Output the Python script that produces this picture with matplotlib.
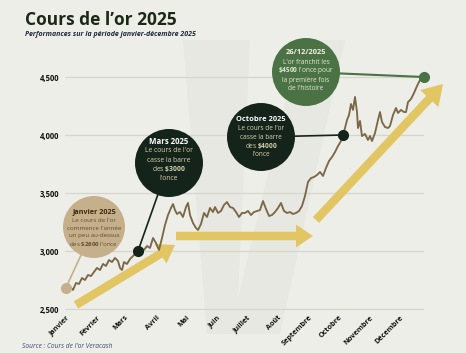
import matplotlib
matplotlib.use("Agg")
import matplotlib.pyplot as plt
from matplotlib.patches import Ellipse, Polygon
import numpy as np

plt.rcParams['font.family'] = ['Open Sans', 'DejaVu Sans']
plt.rcParams['mathtext.fontset'] = 'custom'
plt.rcParams['mathtext.rm'] = 'Open Sans'
plt.rcParams['mathtext.bf'] = 'Open Sans:bold'
plt.rcParams['mathtext.it'] = 'Open Sans:italic'

# ---------------- data ----------------
months = ['Janvier', 'Février', 'Mars', 'Avril', 'Mai', 'Juin', 'Juillet',
          'Août', 'Septembre', 'Octobre', 'Novembre', 'Décembre']
month_start_days = [0, 31, 59, 90, 120, 151, 181, 212, 243, 273, 304, 334]
y_ticks = [2500, 3000, 3500, 4000, 4500]
y_tick_labels = ['2,500', '3,000', '3,500', '4,000', '4,500']

days = [0, 1, 4, 7, 10, 13, 16, 19, 22, 25, 28,
        31, 34, 37, 40, 43, 46, 49, 52, 54, 56,
        58, 61, 64, 67, 70, 72, 75, 78, 81, 84,
        87, 90, 93, 96, 99, 102, 105, 107, 109, 111,
        114, 117, 120, 122, 124, 127, 130, 132, 135, 138,
        141, 144, 147, 149, 152, 155, 158, 161, 164, 167,
        170, 173, 176, 179, 182, 185, 188, 191, 194, 197,
        200, 203, 206, 209, 212, 215, 218, 221, 224, 227,
        230, 233, 236, 239, 242, 245, 248, 251, 254, 257,
        260, 263, 266, 269, 272, 275, 277, 279, 281, 283,
        285, 287, 289, 291, 292, 294, 296, 299, 302, 304,
        306, 309, 312, 314, 316, 319, 322, 324, 327, 330,
        332, 335, 338, 340, 342, 345, 348, 351, 354, 357,
        358]
prices = [2685, 2664, 2690, 2664, 2724, 2716, 2767, 2750, 2793, 2784, 2819,
          2854, 2836, 2888, 2871, 2922, 2905, 2940, 2914, 2854, 2836,
          2905, 2888, 2931, 2957, 2983, 3000, 3026, 3009, 3043, 3026,
          3112, 3069, 3009, 3112, 3224, 3310, 3371, 3405, 3353, 3319,
          3336, 3293, 3379, 3414, 3310, 3241, 3198, 3181, 3233, 3328,
          3293, 3371, 3336, 3379, 3328, 3345, 3397, 3422, 3379, 3371,
          3336, 3293, 3328, 3328, 3345, 3310, 3336, 3345, 3353, 3431,
          3362, 3302, 3310, 3336, 3371, 3414, 3345, 3328, 3336, 3319,
          3328, 3345, 3388, 3474, 3595, 3629, 3638, 3655, 3681, 3647,
          3716, 3776, 3810, 3853, 3905, 3948, 4000, 4060, 4129, 4172,
          4267, 4216, 4328, 4198, 4060, 4121, 3991, 4009, 3957, 3991,
          3948, 4017, 4129, 4198, 4112, 4069, 4060, 4078, 4172, 4233,
          4190, 4216, 4198, 4198, 4284, 4310, 4362, 4422, 4474, 4509,
          4500]

# highlighted points (day, price)
pt_jan = (0, 2685)
pt_mar = (72, 3000)
pt_oct = (277, 4000)
pt_dec = (358, 4500)

# ---------------- style ----------------
W, H = 466, 353
BG = '#eeeee9'
DARK = '#14241a'
GREEN = '#4a7245'
TAN = '#c6b08b'
GOLD = '#e2c664'
LINE = '#7b6847'

fig = plt.figure(figsize=(W / 100, H / 100), dpi=100, facecolor=BG)


def F(x, y):
    return (x / W, 1 - y / H)


def py(v):
    return 77 + (4500 - v) * 58 / 500


ax_bottom = py(2480)
ax_top = py(4600)
ax = fig.add_axes([65 / W, 1 - ax_bottom / H, (424 - 65) / W, (ax_bottom - ax_top) / H])
ax.set_facecolor('none')
ax.set_xlim(-1, 358)
ax.set_ylim(2480, 4600)
for s in ax.spines.values():
    s.set_visible(False)
ax.set_yticks(y_ticks)
ax.set_yticklabels(y_tick_labels, fontsize=5.5, fontweight='bold', color='#111111')
ax.set_xticks(month_start_days)
ax.set_xticklabels(months, fontsize=5.2, fontweight='bold', color='#111111',
                   rotation=45, ha='right', va='top', rotation_mode='anchor')
ax.tick_params(axis='y', length=0, pad=4.3)
ax.tick_params(axis='x', length=0, pad=2)
ax.yaxis.grid(True, color='#d6d6cf', lw=0.9, zorder=0.5)
ax.set_axisbelow(True)

FT = fig.transFigure

# watermark V (behind everything in the axes)
vshape = [(183, 40), (250, 40), (238, 298), (300, 40), (345, 40), (280, 334), (207, 334)]
ax.add_patch(Polygon([F(x, y) for x, y in vshape], closed=True, transform=FT,
                     facecolor='#e8e8e2', edgecolor='none', zorder=0.1, clip_on=False))

ax.plot(days, prices, color=LINE, lw=1.35, zorder=3, solid_joinstyle='round')


# arrows (reference pixel geometry)
def arrow(tail, tip, w=8.5, hw=23, hl=17):
    tail = np.array(tail, float)
    tip = np.array(tip, float)
    d = tip - tail
    d /= np.hypot(*d)
    n = np.array([-d[1], d[0]])
    base = tip - d * hl
    pts = [tail + n * w / 2, base + n * w / 2, base + n * hw / 2, tip,
           base - n * hw / 2, base - n * w / 2, tail - n * w / 2]
    ax.add_patch(Polygon([F(*p) for p in pts], closed=True, transform=FT,
                         facecolor=GOLD, edgecolor='none', zorder=2, clip_on=False))


arrow((76, 305), (175, 245))
arrow((176, 236), (313, 236))
arrow((316, 220), (443, 84), hw=25, hl=20)


def data_px(pt):
    dx, dy = ax.transData.transform(pt)
    return dx, H - dy


def bubble(cx, cy, r, color, target, lcolor, lw, lines, tcolor, bcolor,
           tsize, bsize, spacing, text_cy):
    tx, ty = data_px(target)
    v = np.array([tx - cx, ty - cy])
    v /= np.hypot(*v)
    sx, sy = cx + v[0] * r, cy + v[1] * r
    ax.add_line(plt.Line2D([sx / W, tx / W], [1 - sy / H, 1 - ty / H],
                           transform=FT, color=lcolor, lw=lw, zorder=4, clip_on=False))
    ax.add_patch(Ellipse(F(cx, cy), 2 * r / W, 2 * r / H, transform=FT,
                         facecolor=color, edgecolor='none', zorder=5, clip_on=False))
    n = len(lines)
    y0 = text_cy - spacing * (n - 1) / 2
    for i, txt in enumerate(lines):
        if i == 0:
            ax.text(cx / W, 1 - (y0 + i * spacing) / H, txt, ha='center', va='center',
                    fontsize=tsize, fontweight='bold', color=tcolor, zorder=6,
                    transform=FT, clip_on=False)
        else:
            ax.text(cx / W, 1 - (y0 + i * spacing) / H, txt, ha='center', va='center',
                    fontsize=bsize, color=bcolor, zorder=6, transform=FT, clip_on=False)


bubble(94, 227, 31, TAN, pt_jan, TAN, 1.2,
       ['Janvier 2025', "Le cours de l'or", "commence l'année", 'un peu au-dessus',
        r"des $\mathbf{\$2600}$ l'once"],
       '#3b2a10', '#5e4d33', 5.2, 4.4, 8, 228)
bubble(169, 163, 34, DARK, pt_mar, DARK, 1.2,
       ['Mars 2025', "Le cours de l'or", 'casse la barre', r'des $\mathbf{\$3000}$', "l'once"],
       '#ffffff', '#d9d2b0', 5.6, 4.9, 9, 160)
bubble(261, 137, 34, DARK, pt_oct, DARK, 1.2,
       ['Octobre 2025', "Le cours de l'or", 'casse la barre', r'des $\mathbf{\$4000}$', "l'once"],
       '#ffffff', '#d9d2b0', 5.4, 4.7, 9, 137)
bubble(306, 72, 34, GREEN, pt_dec, GREEN, 1.5,
       ['26/12/2025', "L'or franchit les", r"$\mathbf{\$4500}$ l'once pour",
        'la première fois', "de l'histoire"],
       '#f4f1e4', '#e4e8d4', 5.4, 4.7, 9, 71)

# highlighted dots
for pt, c in [(pt_jan, TAN), (pt_mar, DARK), (pt_oct, DARK), (pt_dec, GREEN)]:
    ax.plot([pt[0]], [pt[1]], 'o', ms=7, color=c, zorder=7, clip_on=False)

# titles
fig.text(25 / W, 1 - 25 / H, 'Cours de l’or 2025', fontsize=12.5, fontweight='bold',
         color='#1b2817', va='baseline')
fig.text(25 / W, 1 - 36 / H, 'Performances sur la période janvier-décembre 2025',
         fontsize=5, fontweight='bold', style='italic', color='#1f2b3a', va='baseline')
fig.text(22 / W, 1 - 346 / H, "Source : Cours de l'or Veracash", fontsize=4.8,
         style='italic', color='#3b4a73', va='center')

fig.savefig('out.png', dpi=100, facecolor=BG)
